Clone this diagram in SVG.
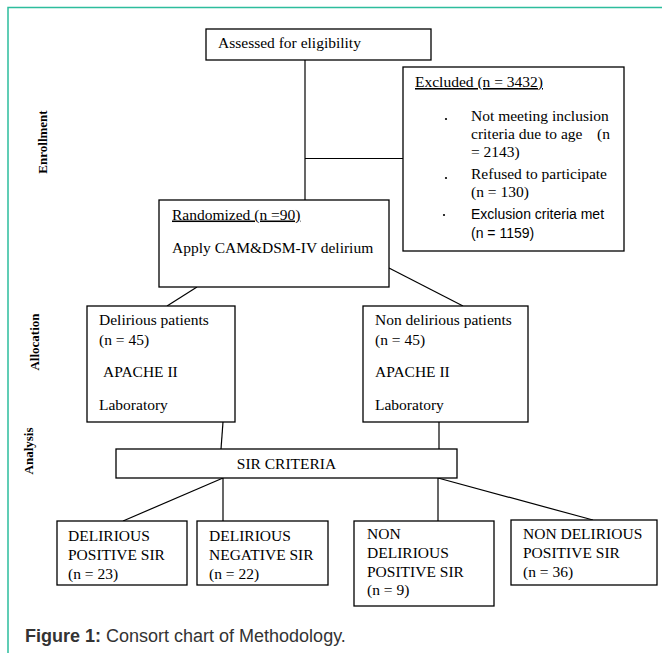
<svg xmlns="http://www.w3.org/2000/svg" width="662" height="653" viewBox="0 0 662 653">
<style>
.box{fill:#fff;stroke:#000;stroke-width:1.3}
.t{font-family:"Liberation Serif","Times New Roman",serif;font-size:15.5px;fill:#000}
.s{font-family:"Liberation Sans",Arial,sans-serif;font-size:14px;fill:#000}
.side{font-family:"Liberation Serif","Times New Roman",serif;font-size:13px;font-weight:bold;fill:#000}
.c{stroke:#000;stroke-width:1.2;fill:none}
.cap{font-family:"Liberation Sans",Arial,sans-serif;font-size:18px;fill:#333}
</style>
<rect width="662" height="653" fill="#fff"/>
<path d="M8,653 V7.5 H662" fill="none" stroke="#2dbd9d" stroke-width="1.5"/>

<g id="labels">
<text class="side" transform="translate(46.5,142) rotate(-90)" text-anchor="middle">Enrollment</text>
<text class="side" transform="translate(39,342) rotate(-90)" text-anchor="middle">Allocation</text>
<text class="side" transform="translate(32.5,451) rotate(-90)" text-anchor="middle">Analysis</text>
</g>

<g id="connectors">
<path class="c" d="M305,60 V200"/>
<path class="c" d="M305,158.5 H403"/>
<path class="c" d="M197,287 L167,306"/>
<path class="c" d="M389,268 L463,306"/>
<path class="c" d="M223,422 L221,449"/>
<path class="c" d="M439,422 V449"/>
<path class="c" d="M223,478 V521"/>
<path class="c" d="M223,478 L123,521"/>
<path class="c" d="M438,478 V521"/>
<path class="c" d="M438,478 L593,520"/>
</g>

<g id="assessed">
<rect class="box" x="206" y="29" width="225" height="31"/>
<text class="t" x="218" y="48">Assessed for eligibility</text>
</g>

<g id="excluded">
<rect class="box" x="403" y="67" width="221" height="184"/>
<text class="t" x="415" y="87" text-decoration="underline">Excluded (n = 3432)</text>
<circle cx="446" cy="119" r="1.1"/>
<circle cx="446" cy="178" r="1.1"/>
<circle cx="444" cy="215" r="1.1"/>
<text class="t" x="471" y="121">Not meeting inclusion</text>
<text class="t" x="471" y="139">criteria due to age</text>
<text class="t" x="597" y="139">(n</text>
<text class="t" x="471" y="157">= 2143)</text>
<text class="t" x="471" y="178.5">Refused to participate</text>
<text class="t" x="471" y="196.5">(n = 130)</text>
<text class="s" x="471" y="218.5">Exclusion criteria met</text>
<text class="s" x="471" y="237.5">(n = 1159)</text>
</g>

<g id="randomized">
<rect class="box" x="159" y="200" width="230" height="87"/>
<text class="t" x="172" y="219.5" text-decoration="underline">Randomized (n =90)</text>
<text class="t" x="172" y="253">Apply CAM&amp;DSM-IV delirium</text>
</g>

<g id="delirious">
<rect class="box" x="87" y="306" width="148" height="116"/>
<text class="t" x="99" y="325">Delirious patients</text>
<text class="t" x="99" y="344.5">(n = 45)</text>
<text class="t" x="103" y="377">APACHE II</text>
<text class="t" x="99" y="410">Laboratory</text>
</g>

<g id="nondelirious">
<rect class="box" x="363" y="306" width="165" height="116"/>
<text class="t" x="375" y="325">Non delirious patients</text>
<text class="t" x="375" y="344.5">(n = 45)</text>
<text class="t" x="375" y="377">APACHE II</text>
<text class="t" x="375" y="410">Laboratory</text>
</g>

<g id="sir">
<rect class="box" x="116" y="449" width="341" height="29"/>
<text class="t" x="286.5" y="468.5" text-anchor="middle">SIR CRITERIA</text>
</g>

<g id="dps">
<rect class="box" x="57" y="521" width="130" height="64"/>
<text class="t" x="68" y="540.5">DELIRIOUS</text>
<text class="t" x="68" y="559.5">POSITIVE SIR</text>
<text class="t" x="68" y="578.5">(n = 23)</text>
</g>

<g id="dns">
<rect class="box" x="197" y="521" width="131" height="64"/>
<text class="t" x="209" y="540.5">DELIRIOUS</text>
<text class="t" x="209" y="559.5">NEGATIVE SIR</text>
<text class="t" x="209" y="578.5">(n = 22)</text>
</g>

<g id="ndps9">
<rect class="box" x="354" y="521" width="140" height="85"/>
<text class="t" x="367" y="539">NON</text>
<text class="t" x="367" y="557.5">DELIRIOUS</text>
<text class="t" x="367" y="576.5">POSITIVE SIR</text>
<text class="t" x="367" y="595">(n = 9)</text>
</g>

<g id="ndps36">
<rect class="box" x="511" y="520" width="146" height="65"/>
<text class="t" x="523" y="539">NON DELIRIOUS</text>
<text class="t" x="523" y="557.5">POSITIVE SIR</text>
<text class="t" x="523" y="576.5">(n = 36)</text>
</g>

<text class="cap" x="25" y="642"><tspan font-weight="bold">Figure 1:</tspan> Consort chart of Methodology.</text>
</svg>
